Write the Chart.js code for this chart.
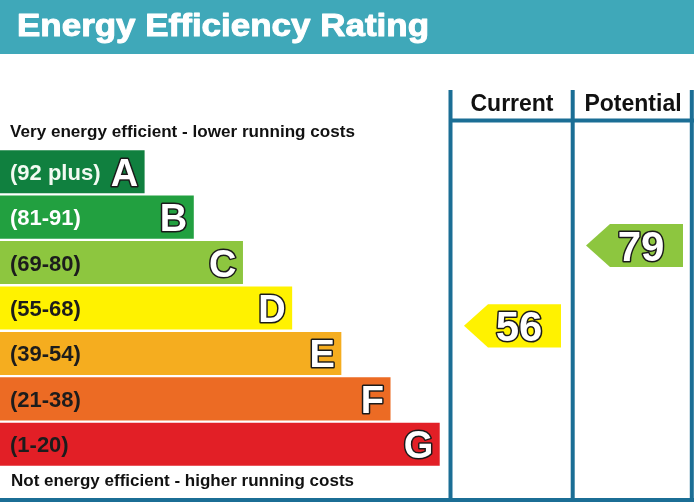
<!DOCTYPE html>
<html>
<head>
<meta charset="utf-8">
<script src="https://cdn.jsdelivr.net/npm/chart.js@4/dist/chart.umd.min.js"></script>
<style>
html,body{margin:0;padding:0;background:#fff;}
#wrap{width:694px;height:502px;position:relative;}
</style>
</head>
<body>
<div id="wrap"><canvas id="c" width="694" height="502"></canvas></div>
<script>
// ---- data ----
const bandLetters = ['A','B','C','D','E','F','G'];
const bandRanges = ['(92 plus)','(81-91)','(69-80)','(55-68)','(39-54)','(21-38)','(1-20)'];
const bandMin = [92, 81, 69, 55, 39, 21, 1];
const bandMax = [100, 91, 80, 68, 54, 38, 20];
const barSteps = [1, 2, 3, 4, 5, 6, 7];
const bandColors = ['#10803f','#22a040','#8dc63f','#fff200','#f5ad1f','#ec6b24','#e21f26'];
const rangeTextColors = ['#f2faf2','#ffffff','#1c1c1c','#1c1c1c','#1c1c1c','#1c1c1c','#1c1c1c'];
const currentRating = 56;
const potentialRating = 79;
const titleText = 'Energy Efficiency Rating';
const topNote = 'Very energy efficient - lower running costs';
const bottomNote = 'Not energy efficient - higher running costs';
const columnTitles = ['Current', 'Potential'];

const X_MIN = -1.94, X_MAX = 12.17;
const FONT = '"Liberation Sans", Arial, Helvetica, sans-serif';
const LINE = '#1b6e95';
const HEADER = '#3fa8b9';

function bandIndexFor(v){
  for (let i=0;i<bandMin.length;i++){ if (v>=bandMin[i] && v<=bandMax[i]) return i; }
  return bandMin.length-1;
}
function ratingPos(v){
  const i = bandIndexFor(v);
  const frac = (bandMax[i] + 0.5 - v) / (bandMax[i] - bandMin[i] + 1);
  return i - 0.5 + frac;
}
function colorFor(v){ return bandColors[bandIndexFor(v)]; }

function fittedText(ctx, txt, x, y, font, width, heavy){
  ctx.save();
  ctx.font = font;
  ctx.textAlign = 'left';
  ctx.textBaseline = 'alphabetic';
  const w = ctx.measureText(txt).width;
  ctx.translate(x, y);
  ctx.scale(width / w, 1);
  if (heavy) {
    ctx.lineWidth = heavy;
    ctx.lineJoin = 'round';
    ctx.strokeStyle = ctx.fillStyle;
    ctx.strokeText(txt, 0, 0);
  }
  ctx.fillText(txt, 0, 0);
  ctx.restore();
}

function outlinedText(ctx, txt, x, y, font, align){
  ctx.font = font;
  ctx.textAlign = align;
  ctx.textBaseline = 'alphabetic';
  ctx.lineJoin = 'round';
  ctx.lineWidth = 3;
  ctx.strokeStyle = '#1a1a1a';
  ctx.strokeText(txt, x, y);
  ctx.fillStyle = '#ffffff';
  ctx.fillText(txt, x, y);
}

const epcPlugin = {
  id: 'epc',
  beforeDraw(chart){
    const ctx = chart.ctx;
    ctx.save();
    ctx.fillStyle = '#ffffff';
    ctx.fillRect(0,0,chart.width,chart.height);
    // header band
    ctx.fillStyle = HEADER;
    ctx.fillRect(0,0,chart.width,54);
    ctx.fillStyle = '#ffffff';
    fittedText(ctx, titleText, 17, 35.5, 'bold 31px ' + FONT, 412, 1);
    // notes
    ctx.fillStyle = '#111111';
    fittedText(ctx, topNote, 10, 136.5, 'bold 17px ' + FONT, 345);
    fittedText(ctx, bottomNote, 11, 486, 'bold 17px ' + FONT, 343);
    // column headers
    ctx.font = 'bold 23px ' + FONT;
    ctx.textAlign = 'center';
    ctx.textBaseline = 'alphabetic';
    ctx.fillText(columnTitles[0], 512, 111);
    ctx.fillText(columnTitles[1], 633, 111);
    // frame lines
    ctx.strokeStyle = LINE;
    ctx.lineWidth = 4;
    ctx.beginPath();
    [450.5, 572.7, 691.8].forEach(x => { ctx.moveTo(x, 90); ctx.lineTo(x, 500); });
    ctx.moveTo(449, 120.5); ctx.lineTo(694, 120.5);
    ctx.moveTo(0, 500); ctx.lineTo(694, 500);
    ctx.stroke();
    ctx.restore();
  },
  afterDatasetsDraw(chart){
    const ctx = chart.ctx;
    const meta = chart.getDatasetMeta(0);
    const yScale = chart.scales.y;
    ctx.save();
    meta.data.forEach((bar, i) => {
      const cy = bar.y;
      ctx.font = 'bold 22px ' + FONT;
      ctx.textAlign = 'left';
      ctx.textBaseline = 'alphabetic';
      ctx.fillStyle = rangeTextColors[i];
      ctx.fillText(bandRanges[i], 10, cy + 8);
      outlinedText(ctx, bandLetters[i], bar.x - 6.5, cy + 14, 'bold 38px ' + FONT, 'right');
    });
    const arrows = [
      {v: currentRating, tip: 464, right: 561},
      {v: potentialRating, tip: 586, right: 683}
    ];
    const h = meta.data[0].height;
    arrows.forEach(a => {
      const cy = yScale.getPixelForValue(ratingPos(a.v));
      const top = cy - h/2, bot = cy + h/2;
      const corner = a.tip + 24;
      ctx.fillStyle = colorFor(a.v);
      ctx.beginPath();
      ctx.moveTo(a.tip, cy);
      ctx.lineTo(corner, top);
      ctx.lineTo(a.right, top);
      ctx.lineTo(a.right, bot);
      ctx.lineTo(corner, bot);
      ctx.closePath();
      ctx.fill();
      outlinedText(ctx, String(a.v), (a.tip + a.right)/2 + 6.5, cy + 15, 'bold 42px ' + FONT, 'center');
    });
    ctx.restore();
  }
};

new Chart(document.getElementById('c'), {
  type: 'bar',
  data: {
    labels: bandLetters,
    datasets: [{
      data: barSteps,
      base: X_MIN,
      backgroundColor: bandColors,
      borderWidth: 0,
      categoryPercentage: 1,
      barPercentage: 0.948
    }]
  },
  options: {
    indexAxis: 'y',
    responsive: false,
    animation: false,
    devicePixelRatio: 1,
    layout: { padding: { top: 149, bottom: 35, left: 0, right: 0 } },
    scales: {
      x: { type: 'linear', display: false, min: X_MIN, max: X_MAX },
      y: { type: 'category', display: false }
    },
    plugins: { legend: { display: false }, tooltip: { enabled: false } }
  },
  plugins: [epcPlugin]
});
</script>
</body>
</html>
